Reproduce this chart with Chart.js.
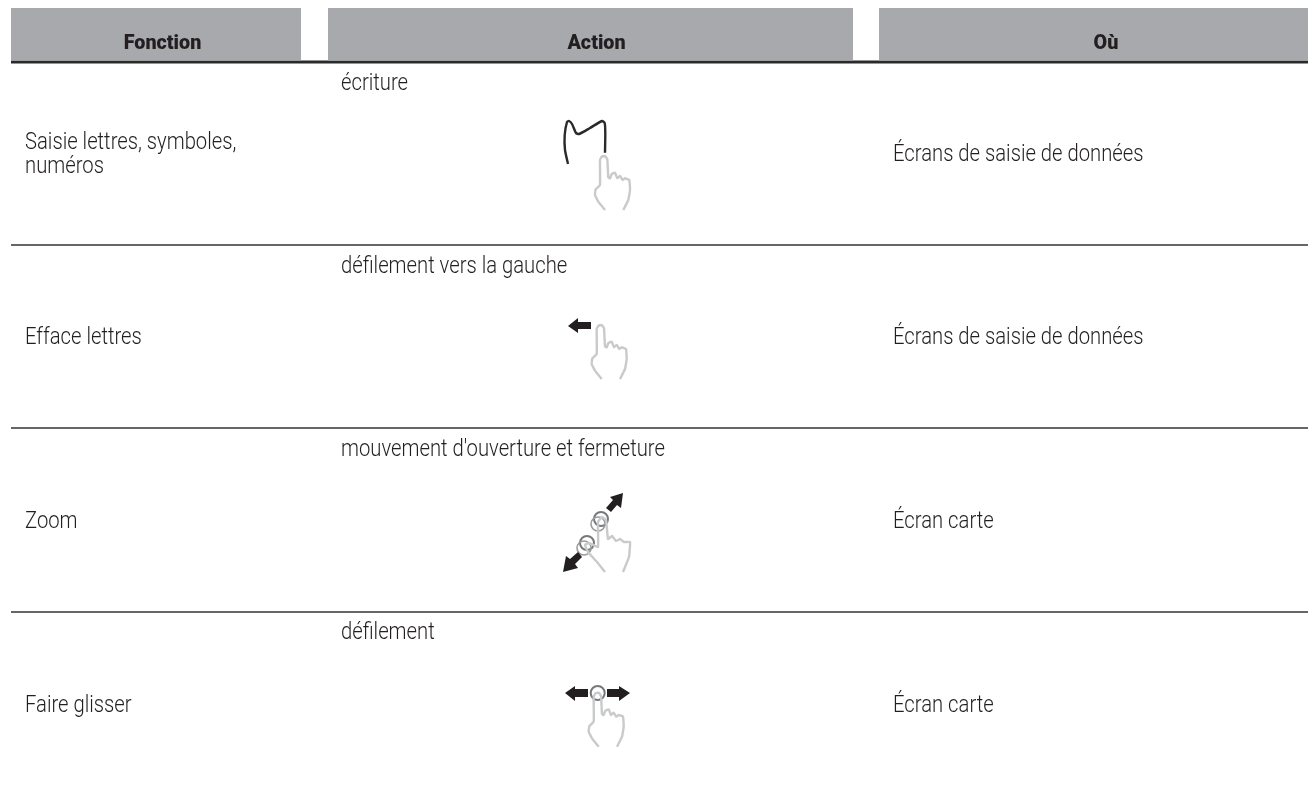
<!DOCTYPE html>
<html lang="fr">
<head>
<meta charset="utf-8">
<title>Fonction / Action / Où</title>
<script src="https://cdn.jsdelivr.net/npm/chart.js@4"></script>
<style>
  html, body { margin: 0; padding: 0; background: #fff; overflow: hidden; }
  canvas { display: block; }
</style>
</head>
<body>
<canvas id="tableGestes" width="1308" height="792"></canvas>
<script>
// Contenu du tableau
const headers = ['Fonction', 'Action', 'Où'];
const fonctions = [['Saisie lettres, symboles,', 'numéros'], ['Efface lettres'], ['Zoom'], ['Faire glisser']];
const actions = ['écriture', 'défilement vers la gauche', "mouvement d'ouverture et fermeture", 'défilement'];
const lieux = ['Écrans de saisie de données', 'Écrans de saisie de données', 'Écran carte', 'Écran carte'];

// Bandeaux gris de l'en-tête : [debut, fin] sur l'axe x
const headerBands = [[11, 301], [328, 853], [879, 1308]];
const headerCenters = [162.5, 596.5, 1106];
const rowRules = [245, 428, 612];
const rowMiddles = [155.5, 338, 522, 706];
const actionLines = [84.5, 267, 450, 633];

// Main (contour), relative au bout du doigt
const handOutline = [[1,54],[-5.7,45.7],[-9,39],[-8.3,33.3],[-4,29],[-4,4],[-2.3,0.7],[1,0],[3.3,3.3],[4.3,21.3],[6,22.3],[7.7,18],[11,16.7],[13.3,22.3],[16,20],[18.7,24],[21,22.3],[25.3,24],[26,34],[24.3,44],[19.3,54]];
const handTips = [[604, 156], [600.7, 325], [597.7, 692.7]];
const zoomHand = [[605,572],[597,562],[588,552],[585,545],[589,543],[598,547],[598,522],[602,517],[606,520],[608,539],[612,536],[616,541],[620,539],[624,542],[630,542],[629,557],[623,572]];

// Trait de la lettre M
const letterM = [[568,164],[565,150],[564.7,135],[567,122],[569,121],[572,124],[576,133],[579,134],[590,128],[602,121],[604.7,123],[605.3,133],[605,152.7]];

// Fleches noires
const arrows = [
  [[568,326],[578,318],[578,322],[591,322],[591,329],[578,329],[578,333]],
  [[623,493],[621,508],[617,505],[611,512],[606,508],[613,500],[610,497]],
  [[563,572],[566,556],[570,559],[578,552],[582,557],[575,564],[578,568]],
  [[565,693],[575,686],[575,689],[588,689],[588,697],[575,697],[575,701]],
  [[630,693],[619,686],[619,689],[607,689],[607,697],[619,697],[619,701]]
];

// Anneaux autour du doigt
const rings = [[601,519],[587,543],[597.7,693]];
const ringsBack = [[598,524],[584,548]];

const toPoints = list => list.map(([x, y]) => ({ x, y }));

const datasets = [];

headerBands.forEach(([start, end]) => {
    datasets.push({
        data: toPoints([[start, 8], [end, 8]]),
        borderWidth: 0,
        backgroundColor: '#a8a9ad',
        fill: { value: 60.5 }
    });
});

datasets.push({
    data: toPoints([[11, 62], [1308, 62]]),
    borderColor: '#2b2a2b',
    borderWidth: 3
});

rowRules.forEach(y => {
    datasets.push({
        data: toPoints([[11, y], [1308, y]]),
        borderColor: '#333333',
        borderWidth: 1.3
    });
});

// Mains
handTips.forEach(([tipX, tipY]) => {
    datasets.push({
        data: handOutline.map(([x, y]) => ({ x: tipX + x, y: tipY + y })),
        borderColor: '#c9cacb',
        borderWidth: 2.4,
        tension: 0.1
    });
});
datasets.push({ data: toPoints(zoomHand), borderColor: '#c9cacb', borderWidth: 2.4, tension: 0.1 });

datasets.push({ data: toPoints(letterM), borderColor: '#2b2a2b', borderWidth: 2.4, tension: 0.2 });

arrows.forEach(shape => {
    datasets.push({
        data: toPoints([...shape, shape[0]]),
        borderWidth: 0,
        backgroundColor: '#231f20',
        fill: 'shape'
    });
});

datasets.push({
    data: toPoints(ringsBack),
    showLine: false,
    pointRadius: 7,
    pointBorderColor: '#9a9b9c',
    pointBorderWidth: 1.6,
    pointBackgroundColor: 'transparent'
});
datasets.push({
    data: toPoints(rings),
    showLine: false,
    pointRadius: 7,
    pointBorderColor: '#77787a',
    pointBorderWidth: 2,
    pointBackgroundColor: 'transparent'
});

// Textes du tableau, places avec les echelles du graphique
const BODY_FONT = '300 23px Roboto';
const HEAD_FONT = '900 21px Roboto';
const BODY_SQUEEZE = 0.88;
const HEAD_SQUEEZE = 0.94;

const tableText = {
    id: 'tableText',
    afterDatasetsDraw(chart) {
        const { ctx, scales: { x, y } } = chart;
        const put = (text, px, py, squeeze) => {
            ctx.fillText(text, x.getPixelForValue(px), y.getPixelForValue(py), ctx.measureText(text).width * squeeze);
        };
        ctx.save();
        ctx.textBaseline = 'middle';

        ctx.font = HEAD_FONT;
        ctx.fillStyle = '#231f20';
        ctx.textAlign = 'center';
        headers.forEach((h, i) => put(h, headerCenters[i], 43.5, HEAD_SQUEEZE));

        ctx.font = BODY_FONT;
        ctx.fillStyle = '#231f20';
        ctx.textAlign = 'left';
        fonctions.forEach((lines, i) => {
            lines.forEach((line, j) => {
                const offset = (j - (lines.length - 1) / 2) * 24;
                put(line, 25, rowMiddles[i] + offset, BODY_SQUEEZE);
            });
        });
        actions.forEach((a, i) => put(a, 341, actionLines[i], BODY_SQUEEZE));
        lieux.forEach((l, i) => put(l, 893, rowMiddles[i], BODY_SQUEEZE));
        ctx.restore();
    }
};

new Chart(document.getElementById('tableGestes'), {
    type: 'scatter',
    data: { datasets: datasets.map(d => ({ showLine: true, pointRadius: 0, ...d })) },
    options: {
        responsive: false,
        animation: false,
        layout: { padding: 0, autoPadding: false },
        plugins: { legend: { display: false }, tooltip: { enabled: false } },
        scales: {
            x: { type: 'linear', display: false, min: 0, max: 1308 },
            y: { type: 'linear', display: false, min: 0, max: 792, reverse: true }
        }
    },
    plugins: [tableText]
});
</script>
</body>
</html>
